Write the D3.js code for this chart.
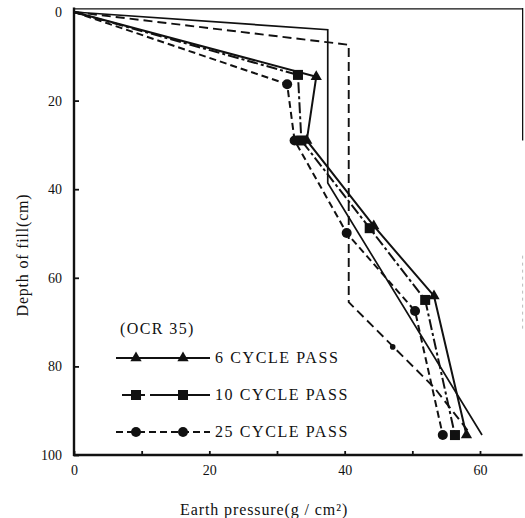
<!DOCTYPE html>
<html>
<head>
<meta charset="utf-8">
<script src="https://cdn.jsdelivr.net/npm/d3@7"></script>
<style>
  body { margin: 0; background: #fff; }
  svg text { font-family: "Liberation Serif", "DejaVu Serif", serif; fill: #111; }
</style>
</head>
<body>
<div id="chart"></div>
<script>
// measured series (earth pressure g/cm2 vs depth of fill cm)
var cycle6Pressure = [0, 35.8, 34.4, 44.3, 53.2, 58.0];
var cycle6Depth = [0, 14.6, 29.0, 48.3, 64.1, 95.5];

var cycle10Pressure = [0, 33.1, 33.6, 43.7, 51.9, 56.3];
var cycle10Depth = [0, 14.2, 29.0, 48.8, 65.0, 95.5];

var cycle25Pressure = [0, 31.5, 32.6, 40.3, 50.4, 54.5];
var cycle25Depth = [0, 16.3, 29.0, 49.9, 67.5, 95.5];

// reference (unmarked) lines
var refSolidPressure = [0, 37.5, 37.5, 60.3];
var refSolidDepth = [0, 4.0, 38.6, 95.5];
var refDashedPressure = [0, 40.6, 40.6, 53.3, 58.2];
var refDashedDepth = [0, 7.4, 65.5, 84.9, 94.5];
var refDotPressure = [47.1];
var refDotDepth = [75.6];

var xTicks = [0, 10, 20, 30, 40, 50, 60];
var xTickLabels = ['0', '', '20', '', '40', '', '60'];
var yTicks = [0, 20, 40, 60, 80, 100];

var legendLabels = ['6 CYCLE PASS', '10 CYCLE PASS', '25 CYCLE PASS'];

var width = 525, height = 518;

var x = d3.scaleLinear().domain([0, 60]).range([74, 480]);
var y = d3.scaleLinear().domain([0, 100]).range([12, 455]);

var svg = d3.select('#chart').append('svg')
  .attr('width', width)
  .attr('height', height);

var zip = function(px, py){
  return px.map(function(p, i){ return [p, py[i]]; });
};

var series = [
  {name: legendLabels[0], pts: zip(cycle6Pressure, cycle6Depth), dash: null, shape: 'triangle'},
  {name: legendLabels[1], pts: zip(cycle10Pressure, cycle10Depth), dash: '11,3,3,3', shape: 'square'},
  {name: legendLabels[2], pts: zip(cycle25Pressure, cycle25Depth), dash: '7,4', shape: 'circle'}
];

var line = d3.line()
  .x(function(d){ return x(d[0]); })
  .y(function(d){ return y(d[1]); });

// frame: top and right border
var xRight = x(66.3);
svg.append('line')
  .attr('x1', x(0)).attr('x2', xRight)
  .attr('y1', y(-0.7)).attr('y2', y(-0.7))
  .attr('stroke', '#111').attr('stroke-width', 1.3);
svg.append('line')
  .attr('x1', xRight).attr('x2', xRight)
  .attr('y1', y(-0.9)).attr('y2', y(29))
  .attr('stroke', '#111').attr('stroke-width', 1.3);
svg.append('line')
  .attr('x1', xRight).attr('x2', xRight)
  .attr('y1', y(55)).attr('y2', y(72))
  .attr('stroke', '#bbb').attr('stroke-width', 1)
  .attr('stroke-dasharray', '3,4');

// axes
var yAxis = d3.axisLeft(y)
  .tickValues(yTicks)
  .tickSizeInner(-5)
  .tickSizeOuter(0)
  .tickPadding(12)
  .tickFormat(d3.format('d'));

var xAxis = d3.axisBottom(x)
  .tickValues(xTicks)
  .tickSizeInner(-4)
  .tickSizeOuter(0)
  .tickPadding(10)
  .tickFormat(function(d, i){ return xTickLabels[i]; });

var gy = svg.append('g')
  .attr('transform', 'translate(' + x(0) + ',0)')
  .call(yAxis);
var gx = svg.append('g')
  .attr('transform', 'translate(0,' + y(100) + ')')
  .call(xAxis);

[gx, gy].forEach(function(g){
  g.select('.domain').remove();
  g.selectAll('.tick line').attr('stroke', '#111').attr('stroke-width', 1.8);
  g.selectAll('.tick text')
    .style('font-family', '"Liberation Serif", serif')
    .style('font-size', '14px')
    .attr('fill', '#111');
});

// thick axis lines
svg.append('line')
  .attr('x1', x(0)).attr('x2', x(0))
  .attr('y1', y(-1)).attr('y2', y(100) + 1)
  .attr('stroke', '#111').attr('stroke-width', 2.4);
svg.append('line')
  .attr('x1', x(0) - 1).attr('x2', xRight)
  .attr('y1', y(100)).attr('y2', y(100))
  .attr('stroke', '#111').attr('stroke-width', 2.4);

// axis titles
svg.append('text')
  .attr('x', 180)
  .attr('y', 515)
  .style('font-size', '16px')
  .style('letter-spacing', '0.9px')
  .text('Earth pressure(g / cm²)');

svg.append('text')
  .attr('transform', 'translate(28,' + 255 + ') rotate(-90)')
  .attr('text-anchor', 'middle')
  .style('font-size', '16px')
  .style('letter-spacing', '0.8px')
  .text('Depth of fill(cm)');

// reference lines
svg.append('path')
  .attr('d', line(zip(refSolidPressure, refSolidDepth)))
  .attr('fill', 'none').attr('stroke', '#111').attr('stroke-width', 1.7);
svg.append('path')
  .attr('d', line(zip(refDashedPressure, refDashedDepth)))
  .attr('fill', 'none').attr('stroke', '#111').attr('stroke-width', 1.9)
  .attr('stroke-dasharray', '9,5');
svg.selectAll('.refdot')
  .data(zip(refDotPressure, refDotDepth))
  .enter().append('circle')
  .attr('cx', function(d){ return x(d[0]); })
  .attr('cy', function(d){ return y(d[1]); })
  .attr('r', 2.8)
  .attr('fill', '#111');

var drawMarker = function(g, shape, cx, cy){
  if(shape === 'triangle'){
    g.append('path')
      .attr('d', d3.symbol().type(d3.symbolTriangle).size(55)())
      .attr('transform', 'translate(' + cx + ',' + cy + ')')
      .attr('fill', '#111');
  } else if(shape === 'square'){
    g.append('rect')
      .attr('x', cx - 5).attr('y', cy - 5)
      .attr('width', 10).attr('height', 10)
      .attr('fill', '#111');
  } else {
    g.append('circle')
      .attr('cx', cx).attr('cy', cy)
      .attr('r', 5)
      .attr('fill', '#111');
  }
};

// measured series
series.forEach(function(s){
  var g = svg.append('g');
  g.append('path')
    .attr('d', line(s.pts))
    .attr('fill', 'none')
    .attr('stroke', '#111')
    .attr('stroke-width', 2)
    .attr('stroke-dasharray', s.dash);
  s.pts.slice(1).forEach(function(d){
    drawMarker(g, s.shape, x(d[0]), y(d[1]));
  });
});

// legend
svg.append('text')
  .attr('x', 120)
  .attr('y', 334)
  .style('font-size', '16px')
  .style('letter-spacing', '1.4px')
  .text('(OCR 35)');

var legendY = [358, 395, 432];
series.forEach(function(s, i){
  var g = svg.append('g');
  var ly = legendY[i];
  g.append('line')
    .attr('x1', i === 1 ? 122 : 116).attr('x2', 210)
    .attr('y1', ly).attr('y2', ly)
    .attr('stroke', '#111')
    .attr('stroke-width', 2)
    .attr('stroke-dasharray', i === 1 ? '14,5,4,5,60' : s.dash);
  drawMarker(g, s.shape, 136, ly);
  drawMarker(g, s.shape, 183, ly);
  g.append('text')
    .attr('x', 215)
    .attr('y', ly + 5)
    .style('font-size', '16px')
    .style('letter-spacing', '1.6px')
    .text(s.name);
});
</script>
</body>
</html>
